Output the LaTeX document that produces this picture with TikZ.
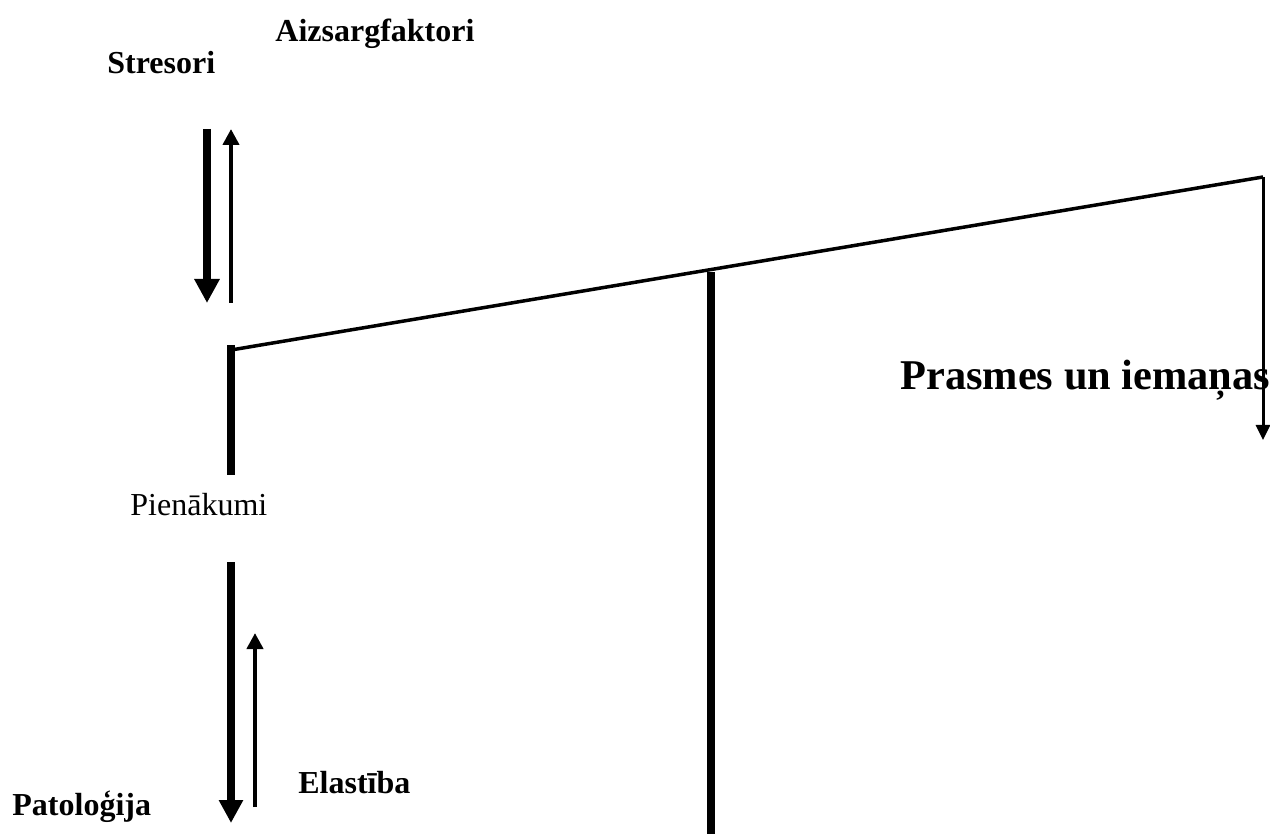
\documentclass[tikz,border=0pt]{standalone}
\usepackage{fontspec}
\setmainfont{Liberation Serif}
\usepackage{tikz}
\usetikzlibrary{arrows.meta}

\begin{document}
\begin{tikzpicture}[x=0.5pt, y=-0.5pt,
    lbl/.style={inner sep=0pt, anchor=base west, font=\fontsize{16}{19}\selectfont\bfseries},
    fat/.style={line width=4pt, -{Triangle[length=12pt, width=12pt]}},
    slim/.style={line width=2pt, -{Triangle[length=8pt, width=8pt]}},
    bar/.style={line width=4pt}]
            \useasboundingbox (0, 0) rectangle (1270, 834);

            % labels
            \node [lbl] (Az) at (275, 42) {Aizsargfaktori};
            \node [lbl] (St) at (107, 74) {Stresori};
            \node [lbl, font=\fontsize{16}{19}\selectfont] (Pi) at (130, 515) {Pienākumi};
            \node [lbl, font=\fontsize{21.2}{25}\selectfont\bfseries] (Pr) at (900, 390) {Prasmes un iemaņas};
            \node [lbl] (El) at (298, 793) {Elastība};
            \node [lbl] (Pa) at (12, 815) {Patoloģija};

            % end points
            \coordinate (S1) at (207, 129);
            \coordinate (S2) at (207, 303);
            \coordinate (A1) at (231, 303);
            \coordinate (A2) at (231, 129);
            \coordinate (P1) at (231, 345);
            \coordinate (P2) at (231, 475);
            \coordinate (B1) at (231, 350);
            \coordinate (B2) at (1263, 177);
            \coordinate (B3) at (1263, 440);
            \coordinate (M1) at (711, 272);
            \coordinate (M2) at (711, 834);
            \coordinate (D1) at (231, 562);
            \coordinate (D2) at (231, 823);
            \coordinate (E1) at (255, 807);
            \coordinate (E2) at (255, 633);

            \draw [fat] (S1) -- (S2);
            \draw [slim] (A1) -- (A2);
            \draw [bar] (P1) -- (P2);
            \draw [line width=1.75pt] (B1) -- (B2);
            \draw [line width=1.5pt, -{Triangle[length=7.5pt, width=7pt]}] (B2) -- (B3);
            \draw [bar] (M1) -- (M2);
            \draw [fat, -{Triangle[length=11.5pt, width=11.5pt]}] (D1) -- (D2);
            \draw [slim] (E1) -- (E2);
        \end{tikzpicture}
\end{document}
